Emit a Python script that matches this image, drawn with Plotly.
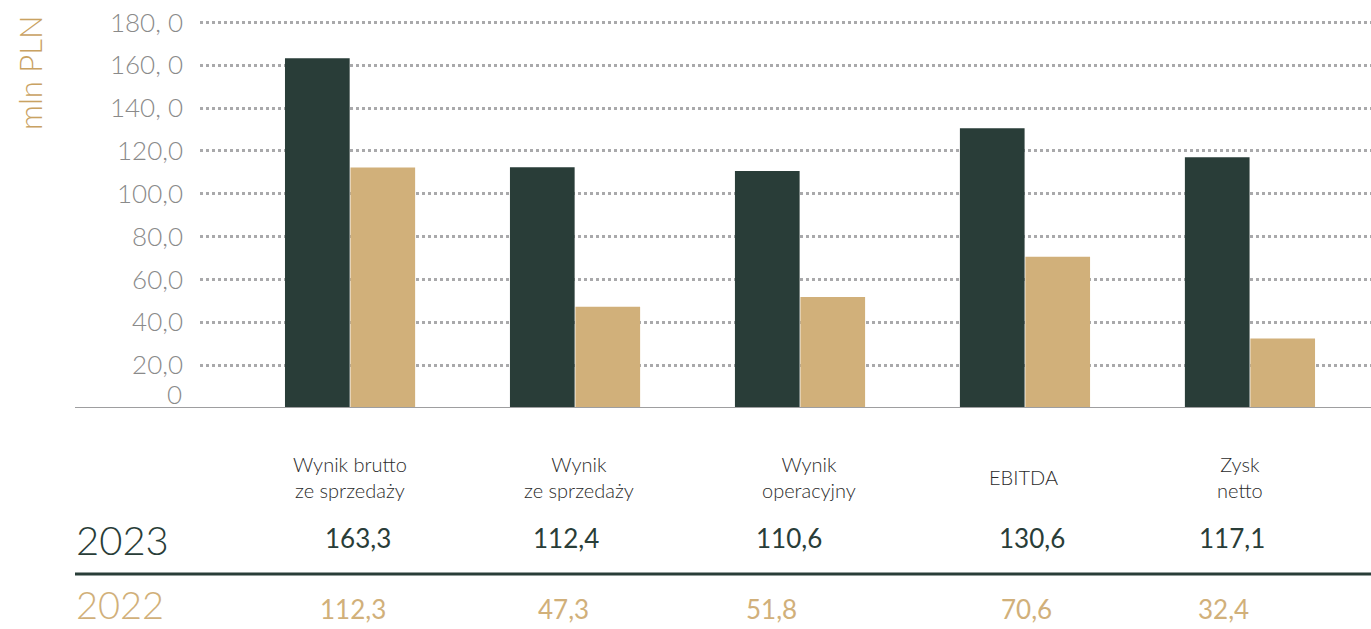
import plotly.graph_objects as go

categories = ["Wynik brutto<br>ze sprzedaży", "Wynik<br>ze sprzedaży", "Wynik<br>operacyjny", "EBITDA", "Zysk<br>netto"]
values_2023 = [163.3, 112.4, 110.6, 130.6, 117.1]
values_2022 = [112.3, 47.3, 51.8, 70.6, 32.4]
year_labels = ["2023", "2022"]
tick_vals = [20, 40, 60, 80, 100, 120, 140, 160, 180]
tick_text = ["20,0", "40,0", "60,0", "80,0", "100,0", "120,0", "140, 0", "160, 0", "180, 0"]
axis_title = "mln PLN"

# text placement offsets (pixels) relative to group centres
label_shift = [0, 4, 9, -1, -10]
v23_shift = [8, -9, -11, 7, -18]
v22_shift = [3, -12, -29, 2, -26]

DARK = "#293d38"
GOLD = "#d1b07a"
GOLD_TXT = "#c9a262"
GRID = "#a9a9ab"
TICK = "#8a8a8a"
W, H = 1371, 629
L, R, T, B = 200, 0, 1, 221
PW, PH = W - L - R, H - T - B


def px(xp):
    return (xp - L) / PW


def py(yp):
    return (H - B - yp) / PH


def fmt(v):
    return f"{v:.1f}".replace(".", ",")


xs = list(range(len(categories)))
fig = go.Figure()
fig.add_bar(x=xs, y=values_2023, name=year_labels[0], marker_color=DARK, marker_line_width=0)
fig.add_bar(x=xs, y=values_2022, name=year_labels[1], marker_color=GOLD, marker_line_width=0)

ann = []
for i, c in enumerate(categories):
    ann.append(dict(x=i, xref="x", y=py(477), yref="paper", text=c, showarrow=False,
                    xanchor="center", yanchor="middle", xshift=label_shift[i],
                    font=dict(family="Lato", size=20, color="#2b2b2b", weight=300)))
    ann.append(dict(x=i, xref="x", y=py(538), yref="paper", text=fmt(values_2023[i]), showarrow=False,
                    xanchor="center", yanchor="middle", xshift=v23_shift[i],
                    font=dict(family="Lato", size=26, color=DARK, weight=400)))
    ann.append(dict(x=i, xref="x", y=py(609), yref="paper", text=fmt(values_2022[i]), showarrow=False,
                    xanchor="center", yanchor="middle", xshift=v22_shift[i],
                    font=dict(family="Lato", size=26, color=GOLD, weight=400)))
ann.append(dict(x=px(74), xref="paper", y=py(540), yref="paper", text=year_labels[0], showarrow=False,
                xanchor="left", yanchor="middle", font=dict(family="Lato", size=40, color=DARK, weight=300)))
ann.append(dict(x=px(74), xref="paper", y=py(604), yref="paper", text=year_labels[1], showarrow=False,
                xanchor="left", yanchor="middle", font=dict(family="Lato", size=38, color=GOLD, weight=300)))
ann.append(dict(x=px(184), xref="paper", y=py(394), yref="paper", text="0", showarrow=False,
                xanchor="right", yanchor="middle", font=dict(family="Lato", size=26, color=TICK, weight=300)))
ann.append(dict(x=px(30), xref="paper", y=py(73), yref="paper", text=axis_title, showarrow=False,
                textangle=-90, xanchor="center", yanchor="middle",
                font=dict(family="Lato", size=31, color=GOLD_TXT, weight=300)))

shapes = [
    dict(type="line", xref="paper", yref="y", x0=px(75), x1=1, y0=0, y1=0,
         line=dict(color="#9e9ea0", width=2), layer="above"),
    dict(type="line", xref="paper", yref="paper", x0=px(75), x1=1, y0=py(574), y1=py(574),
         line=dict(color=DARK, width=3)),
]

fig.update_layout(
    width=W, height=H,
    margin=dict(l=L, r=R, t=T, b=B),
    paper_bgcolor="white", plot_bgcolor="white",
    barmode="group", bargap=0.418, bargroupgap=0.012,
    showlegend=False,
    annotations=ann, shapes=shapes,
    xaxis=dict(range=[-0.667, 4.538], showticklabels=False, showgrid=False, zeroline=False,
               showline=False, ticks=""),
    yaxis=dict(range=[0, 190], tickvals=tick_vals, ticktext=tick_text, showgrid=True,
               gridcolor=GRID, gridwidth=2.5, griddash="dot", zeroline=False, showline=False,
               ticks="", ticklabelstandoff=16,
               tickfont=dict(family="Lato", size=26, color=TICK, weight=300)),
)

fig.write_html("out.html", config={"displayModeBar": False},
               post_script="document.body.style.margin='0';document.body.style.overflow='hidden';")
